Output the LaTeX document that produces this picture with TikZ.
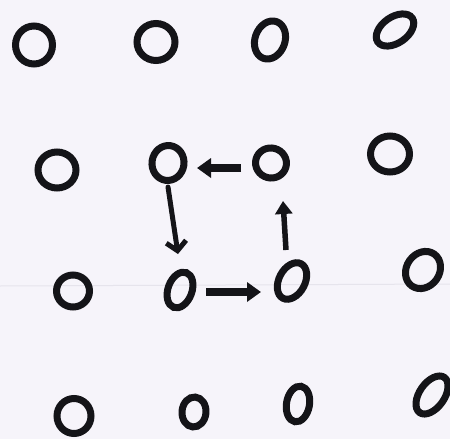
\documentclass[tikz,border=0pt]{standalone}
\usetikzlibrary{shapes.geometric,arrows.meta}
\definecolor{paper}{RGB}{246,244,250}
\definecolor{ink}{RGB}{20,20,24}
\definecolor{faint}{RGB}{230,228,236}
\tikzset{
  ring/.style={ellipse,draw=ink,line width=7pt,inner sep=0pt},
  fatarr/.style={draw=ink,line width=8pt,-{Triangle[width=19pt,length=14pt]}},
  thinarr/.style={draw=ink,line width=5pt,line cap=round,-{Straight Barb[width=20pt,length=9pt,line width=5pt]}},
  uparr/.style={draw=ink,line width=5.5pt,-{Triangle[width=17pt,length=13pt]}}
}
\newcommand{\ring}[6]{\node[ring,minimum width=#4pt,minimum height=#5pt,rotate=#6] (#1) at (#2,#3) {};}
\begin{document}
\begin{tikzpicture}[x=1pt,y=-1pt]
\fill[paper] (0,0) rectangle (450,439);
\useasboundingbox (0,0) rectangle (450,439);
\draw[faint,line width=1pt] (0,286) -- (450,284);
% row 1
\ring{c11}{34}{45}{37}{38}{0}
\ring{c12}{156}{42}{38}{37}{0}
\ring{c13}{270}{40}{30}{39}{-20}
\ring{c14}{395}{30}{42}{26}{35}
% row 2
\ring{c21}{57}{170}{38}{36}{0}
\ring{c22}{168}{163}{32}{35}{-8}
\ring{c23}{271}{163}{31}{30}{-15}
\ring{c24}{390}{154}{39}{36}{0}
% row 3
\ring{c31}{73}{291}{33}{32}{0}
\ring{c32}{180}{290}{24}{37}{-20}
\ring{c33}{292}{281}{26}{39}{-28}
\ring{c34}{423}{270}{33}{39}{-35}
% row 4
\ring{c41}{74}{416}{34}{35}{0}
\ring{c42}{194}{412}{24}{30}{-5}
\ring{c43}{298}{404}{23}{36}{-10}
\ring{c44}{432}{395}{25}{43}{-35}
% arrows
\draw[fatarr] ([shift={(-30,5)}]c23.center) -- ([shift={(29,5)}]c22.center);
\draw[thinarr] ([shift={(0,24)}]c22.center) -- ([shift={(-2,-36)}]c32.center);
\draw[fatarr] ([shift={(26,2)}]c32.center) -- ([shift={(-31,11)}]c33.center);
\draw[uparr] ([shift={(-6,-31)}]c33.center) -- ([shift={(12,38)}]c23.center);
\end{tikzpicture}
\end{document}
